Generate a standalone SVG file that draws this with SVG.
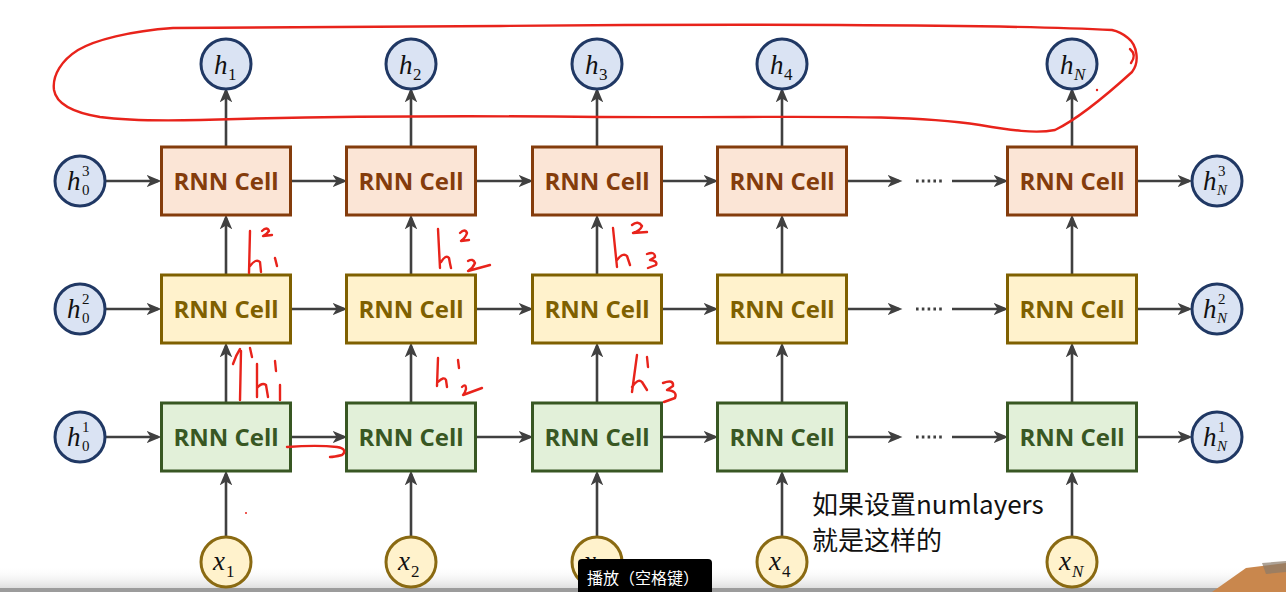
<svg xmlns="http://www.w3.org/2000/svg" width="1286" height="592" viewBox="0 0 1286 592">
<defs>
<marker id="arr" markerUnits="userSpaceOnUse" markerWidth="16" markerHeight="16" viewBox="0 0 14 14" refX="10" refY="7" orient="auto">
<path d="M0,1.5 L13,7 L0,12.5 L3.5,7 Z" fill="#404040"/>
</marker>
<linearGradient id="bar" x1="0" y1="0" x2="0" y2="1">
<stop offset="0" stop-color="#ffffff" stop-opacity="0"/>
<stop offset="1" stop-color="#dcdcdc"/>
</linearGradient>
<clipPath id="abovetip"><rect x="0" y="0" width="1286" height="559"/></clipPath>
<style>
.cn{stroke:#404040;stroke-width:2.6;fill:none;marker-end:url(#arr)}
.dots{stroke:#404040;stroke-width:3;stroke-dasharray:2.6 3.2;fill:none}
.b3{fill:#fbe5d6;stroke:#843c0c;stroke-width:3}
.b2{fill:#fff2cc;stroke:#7f6000;stroke-width:3}
.b1{fill:#e2f0d9;stroke:#385723;stroke-width:3}
.t{font-family:"Open Sans","Noto Sans",sans-serif;font-weight:bold;font-size:24px;text-anchor:middle}
.t3{fill:#843c0c}.t2{fill:#7f6000}.t1{fill:#385723}
.hc{fill:#dae3f3;stroke:#203864;stroke-width:3}
.xc{fill:#fff2cc;stroke:#8a6a12;stroke-width:3}
.m{font-family:"Liberation Serif","DejaVu Serif",serif;font-size:27px;font-style:italic;fill:#111}
.s{font-family:"Liberation Serif","DejaVu Serif",serif;font-size:17px;font-style:normal;fill:#111}
.si{font-family:"Liberation Serif","DejaVu Serif",serif;font-size:17px;font-style:italic;fill:#111}
.ss{font-family:"Liberation Serif","DejaVu Serif",serif;font-size:15px;font-style:normal;fill:#111}
.ssi{font-family:"Liberation Serif","DejaVu Serif",serif;font-size:15px;font-style:italic;fill:#111}
.red{stroke:#e8231b;stroke-width:2.4;fill:none;stroke-linecap:round;stroke-linejoin:round}
.cjk{font-family:"Noto Sans CJK SC","Noto Sans",sans-serif;font-size:26px;fill:#111}
</style>
</defs>
<rect width="1286" height="592" fill="#ffffff"/>
<rect x="0" y="566" width="1286" height="23" fill="url(#bar)"/>
<rect x="0" y="588" width="1286" height="4" fill="#9c9c9c"/>

<g id="connectors">
<line class="cn" x1="226" y1="147" x2="226" y2="91"/>
<line class="cn" x1="411" y1="147" x2="411" y2="91"/>
<line class="cn" x1="597" y1="147" x2="597" y2="91"/>
<line class="cn" x1="782" y1="147" x2="782" y2="91"/>
<line class="cn" x1="1072" y1="147" x2="1072" y2="91"/>
<line class="cn" x1="226" y1="275" x2="226" y2="218"/>
<line class="cn" x1="411" y1="275" x2="411" y2="218"/>
<line class="cn" x1="597" y1="275" x2="597" y2="218"/>
<line class="cn" x1="782" y1="275" x2="782" y2="218"/>
<line class="cn" x1="1072" y1="275" x2="1072" y2="218"/>
<line class="cn" x1="226" y1="403" x2="226" y2="346"/>
<line class="cn" x1="411" y1="403" x2="411" y2="346"/>
<line class="cn" x1="597" y1="403" x2="597" y2="346"/>
<line class="cn" x1="782" y1="403" x2="782" y2="346"/>
<line class="cn" x1="1072" y1="403" x2="1072" y2="346"/>
<line class="cn" x1="226" y1="537" x2="226" y2="474"/>
<line class="cn" x1="411" y1="537" x2="411" y2="474"/>
<line class="cn" x1="597" y1="537" x2="597" y2="474"/>
<line class="cn" x1="782" y1="537" x2="782" y2="474"/>
<line class="cn" x1="1072" y1="537" x2="1072" y2="474"/>

<line class="cn" x1="105" y1="181" x2="158" y2="181"/>
<line class="cn" x1="290" y1="181" x2="344" y2="181"/>
<line class="cn" x1="475" y1="181" x2="530" y2="181"/>
<line class="cn" x1="661" y1="181" x2="715" y2="181"/>
<line class="cn" x1="846" y1="181" x2="899" y2="181"/>
<line class="dots" x1="916" y1="181" x2="943" y2="181"/>
<line class="cn" x1="952" y1="181" x2="1005" y2="181"/>
<line class="cn" x1="1137" y1="181" x2="1189" y2="181"/>

<line class="cn" x1="105" y1="309" x2="158" y2="309"/>
<line class="cn" x1="290" y1="309" x2="344" y2="309"/>
<line class="cn" x1="475" y1="309" x2="530" y2="309"/>
<line class="cn" x1="661" y1="309" x2="715" y2="309"/>
<line class="cn" x1="846" y1="309" x2="899" y2="309"/>
<line class="dots" x1="916" y1="309" x2="943" y2="309"/>
<line class="cn" x1="952" y1="309" x2="1005" y2="309"/>
<line class="cn" x1="1137" y1="309" x2="1189" y2="309"/>

<line class="cn" x1="105" y1="437" x2="158" y2="437"/>
<line class="cn" x1="290" y1="437" x2="344" y2="437"/>
<line class="cn" x1="475" y1="437" x2="530" y2="437"/>
<line class="cn" x1="661" y1="437" x2="715" y2="437"/>
<line class="cn" x1="846" y1="437" x2="899" y2="437"/>
<line class="dots" x1="916" y1="437" x2="943" y2="437"/>
<line class="cn" x1="952" y1="437" x2="1005" y2="437"/>
<line class="cn" x1="1137" y1="437" x2="1189" y2="437"/>
</g>

<g id="cell-3-1"><rect class="b3" x="161.5" y="147" width="129" height="68"/><text class="t t3" x="226" y="190">RNN Cell</text></g>
<g id="cell-3-2"><rect class="b3" x="346.5" y="147" width="129" height="68"/><text class="t t3" x="411" y="190">RNN Cell</text></g>
<g id="cell-3-3"><rect class="b3" x="532.5" y="147" width="129" height="68"/><text class="t t3" x="597" y="190">RNN Cell</text></g>
<g id="cell-3-4"><rect class="b3" x="717.5" y="147" width="129" height="68"/><text class="t t3" x="782" y="190">RNN Cell</text></g>
<g id="cell-3-N"><rect class="b3" x="1007.5" y="147" width="129" height="68"/><text class="t t3" x="1072" y="190">RNN Cell</text></g>
<g id="cell-2-1"><rect class="b2" x="161.5" y="275" width="129" height="68"/><text class="t t2" x="226" y="318">RNN Cell</text></g>
<g id="cell-2-2"><rect class="b2" x="346.5" y="275" width="129" height="68"/><text class="t t2" x="411" y="318">RNN Cell</text></g>
<g id="cell-2-3"><rect class="b2" x="532.5" y="275" width="129" height="68"/><text class="t t2" x="597" y="318">RNN Cell</text></g>
<g id="cell-2-4"><rect class="b2" x="717.5" y="275" width="129" height="68"/><text class="t t2" x="782" y="318">RNN Cell</text></g>
<g id="cell-2-N"><rect class="b2" x="1007.5" y="275" width="129" height="68"/><text class="t t2" x="1072" y="318">RNN Cell</text></g>
<g id="cell-1-1"><rect class="b1" x="161.5" y="403" width="129" height="68"/><text class="t t1" x="226" y="446">RNN Cell</text></g>
<g id="cell-1-2"><rect class="b1" x="346.5" y="403" width="129" height="68"/><text class="t t1" x="411" y="446">RNN Cell</text></g>
<g id="cell-1-3"><rect class="b1" x="532.5" y="403" width="129" height="68"/><text class="t t1" x="597" y="446">RNN Cell</text></g>
<g id="cell-1-4"><rect class="b1" x="717.5" y="403" width="129" height="68"/><text class="t t1" x="782" y="446">RNN Cell</text></g>
<g id="cell-1-N"><rect class="b1" x="1007.5" y="403" width="129" height="68"/><text class="t t1" x="1072" y="446">RNN Cell</text></g>

<g id="h1"><circle class="hc" cx="226" cy="64" r="25"/><text class="m" x="214" y="74">h</text><text class="s" x="228" y="80">1</text></g>
<g id="h2"><circle class="hc" cx="411" cy="64" r="25"/><text class="m" x="399" y="74">h</text><text class="s" x="413" y="80">2</text></g>
<g id="h3"><circle class="hc" cx="597" cy="64" r="25"/><text class="m" x="585" y="74">h</text><text class="s" x="599" y="80">3</text></g>
<g id="h4"><circle class="hc" cx="782" cy="64" r="25"/><text class="m" x="770" y="74">h</text><text class="s" x="784" y="80">4</text></g>
<g id="hN"><circle class="hc" cx="1072" cy="64" r="25"/><text class="m" x="1060" y="74">h</text><text class="si" x="1074" y="80">N</text></g>

<g id="h0-3"><circle class="hc" cx="80" cy="181" r="25"/><text class="m" x="67" y="190">h</text><text class="ss" x="82" y="176">3</text><text class="ss" x="82" y="195">0</text></g>
<g id="h0-2"><circle class="hc" cx="80" cy="309" r="25"/><text class="m" x="67" y="318">h</text><text class="ss" x="82" y="304">2</text><text class="ss" x="82" y="323">0</text></g>
<g id="h0-1"><circle class="hc" cx="80" cy="437" r="25"/><text class="m" x="67" y="446">h</text><text class="ss" x="82" y="432">1</text><text class="ss" x="82" y="451">0</text></g>

<g id="hN-3"><circle class="hc" cx="1217" cy="181" r="25"/><text class="m" x="1203" y="190">h</text><text class="ss" x="1218" y="176">3</text><text class="ssi" x="1217" y="195">N</text></g>
<g id="hN-2"><circle class="hc" cx="1217" cy="309" r="25"/><text class="m" x="1203" y="318">h</text><text class="ss" x="1218" y="304">2</text><text class="ssi" x="1217" y="323">N</text></g>
<g id="hN-1"><circle class="hc" cx="1217" cy="437" r="25"/><text class="m" x="1203" y="446">h</text><text class="ss" x="1218" y="432">1</text><text class="ssi" x="1217" y="451">N</text></g>

<g id="x1"><circle class="xc" cx="226" cy="562" r="25"/><text class="m" x="213" y="570">x</text><text class="s" x="226" y="577">1</text></g>
<g id="x2"><circle class="xc" cx="411" cy="562" r="25"/><text class="m" x="398" y="570">x</text><text class="s" x="411" y="577">2</text></g>
<g id="x3"><circle class="xc" cx="597" cy="562" r="25"/><text class="m" x="584" y="570" clip-path="url(#abovetip)">x</text></g>
<g id="x4"><circle class="xc" cx="782" cy="562" r="25"/><text class="m" x="769" y="570">x</text><text class="s" x="782" y="577">4</text></g>
<g id="xN"><circle class="xc" cx="1072" cy="562" r="25"/><text class="m" x="1059" y="570">x</text><text class="si" x="1072" y="577">N</text></g>

<g id="note">
<text class="cjk" x="812" y="514">如果设置numlayers</text>
<text class="cjk" x="812" y="550">就是这样的</text>
</g>

<g id="annotations">
<path class="red" d="M1112,30 C1000,24 700,24 500,26 C350,27 250,27 173,28 C130,31 95,40 78,50 C62,60 52,75 54,90 C56,102 70,112 100,117 C130,121 160,121 200,120 C300,117 420,115 600,117 C800,118 900,113 980,125 C1010,130 1035,134 1055,130 C1080,118 1110,92 1132,72 C1140,62 1137,45 1128,38 C1122,33 1117,31 1112,30"/>
<path class="red" d="M1130,49 Q1137,55 1131,63"/>
<circle cx="1097" cy="90" r="1.2" fill="#e8231b"/>
<circle cx="246" cy="513" r="1" fill="#e8231b"/>
<path class="red" d="M250,231 L249,273 M250,266 Q256,258 260,262 L261,272"/>
<path class="red" d="M262,231 Q267,226 269,231 Q267,234 263,236 L272,235"/>
<path class="red" d="M275,258 L277,266"/>
<path class="red" d="M240,400 L241,351 M233,364 Q236,355 240,349 M250,348 L252,357"/>
<path class="red" d="M257,364 L257,397 M257,388 Q262,382 266,385 L268,397"/>
<path class="red" d="M275,361 L276,371 M280,385 L280,400"/>
<path class="red" d="M287,447 C300,446 320,445 337,447 C345,448 346,452 342,455 C338,456 334,457 330,457"/>
<path class="red" d="M438,229 L440,268 M441,262 Q446,254 449,258 Q450,264 451,268"/>
<path class="red" d="M460,233 Q465,228 467,233 Q466,237 461,241 L469,240"/>
<path class="red" d="M468,261 Q473,258 475,263 Q473,268 468,271 L490,265"/>
<path class="red" d="M438,358 L437,386 M438,382 Q444,376 446,380 L447,387"/>
<path class="red" d="M458,360 L459,368"/>
<path class="red" d="M462,387 Q466,383 466,389 Q465,393 463,395 L482,388"/>
<path class="red" d="M613,228 L617,267 M617,260 Q623,252 627,256 L630,265"/>
<path class="red" d="M632,225 Q638,220 642,226 Q640,231 633,233 L647,232"/>
<path class="red" d="M647,254 Q655,251 655,257 L650,260 Q658,261 656,265 L648,268"/>
<path class="red" d="M637,355 L632,392 M632,387 Q638,378 642,382 L647,390"/>
<path class="red" d="M647,357 L648,367"/>
<path class="red" d="M663,383 Q674,379 673,386 L667,390 Q678,391 675,398 L664,402"/>
</g>

<g id="tooltip">
<rect x="578" y="559" width="134" height="40" rx="4" fill="#000000"/>
<text x="587" y="584" font-family="Noto Sans CJK SC, sans-serif" font-size="16" fill="#ffffff">播放（空格键）</text>
</g>
<g id="thumb">
<polygon points="1212,592 1246,568 1286,563 1286,592" fill="#c9874d"/>
<polygon points="1262,563 1286,561 1286,572 1266,574" fill="#8a7a6a" opacity="0.7"/>
</g>
</svg>
